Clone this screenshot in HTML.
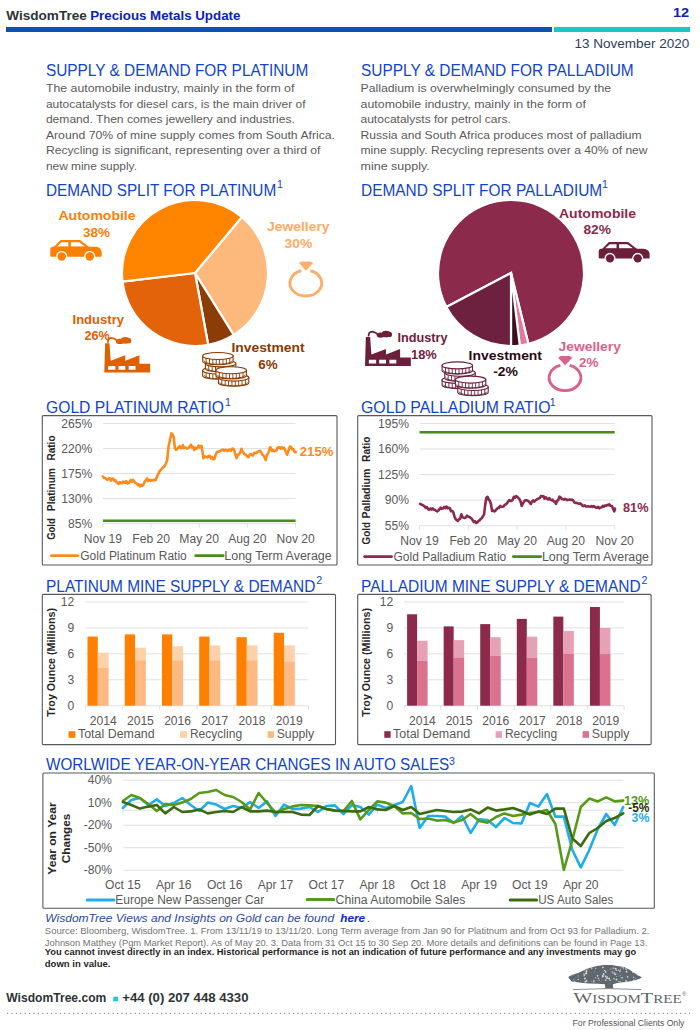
<!DOCTYPE html>
<html><head><meta charset="utf-8"><title>WisdomTree Precious Metals Update</title>
<style>
*{margin:0;padding:0}
html,body{width:700px;height:1030px;background:#fff;overflow:hidden}
svg{display:block}
</style></head><body>
<svg width="700" height="1030" viewBox="0 0 700 1030" font-family='"Liberation Sans", sans-serif'>
<rect width="700" height="1030" fill="#fff"/>
<text x="6.3" y="19.5" font-size="12.8" fill="#2c3437" font-weight="bold" textLength="80.5" lengthAdjust="spacingAndGlyphs">WisdomTree</text>
<text x="90.2" y="19.5" font-size="12.8" fill="#0b22b8" font-weight="bold" textLength="150.2" lengthAdjust="spacingAndGlyphs">Precious Metals Update</text>
<text x="673.0" y="17.2" font-size="11.9" fill="#0b22b8" font-weight="bold" textLength="16.2" lengthAdjust="spacingAndGlyphs">12</text>
<rect x="6" y="27" width="546" height="5" fill="#0b52b3"/>
<rect x="554" y="27" width="136" height="5" fill="#17c7c9"/>
<text x="574.4" y="47.7" font-size="13.2" fill="#2f3d5c" textLength="115.0" lengthAdjust="spacingAndGlyphs">13 November 2020</text>
<text x="46.0" y="76.4" font-size="16" fill="#1144cc" textLength="262.2" lengthAdjust="spacingAndGlyphs">SUPPLY &amp; DEMAND FOR PLATINUM</text>
<text x="361.0" y="76.0" font-size="16" fill="#1144cc" textLength="272.7" lengthAdjust="spacingAndGlyphs">SUPPLY &amp; DEMAND FOR PALLADIUM</text>
<text x="45.9" y="92.1" font-size="11.3" fill="#5b5b5b" textLength="248.5" lengthAdjust="spacingAndGlyphs">The automobile industry, mainly in the form of</text>
<text x="45.9" y="107.6" font-size="11.3" fill="#5b5b5b" textLength="259.6" lengthAdjust="spacingAndGlyphs">autocatalysts for diesel cars, is the main driver of</text>
<text x="45.9" y="123.1" font-size="11.3" fill="#5b5b5b" textLength="248.9" lengthAdjust="spacingAndGlyphs">demand. Then comes jewellery and industries.</text>
<text x="45.9" y="138.6" font-size="11.3" fill="#5b5b5b" textLength="289.1" lengthAdjust="spacingAndGlyphs">Around 70% of mine supply comes from South Africa.</text>
<text x="45.9" y="154.1" font-size="11.3" fill="#5b5b5b" textLength="274.6" lengthAdjust="spacingAndGlyphs">Recycling is significant, representing over a third of</text>
<text x="45.9" y="169.6" font-size="11.3" fill="#5b5b5b" textLength="91.1" lengthAdjust="spacingAndGlyphs">new mine supply.</text>
<text x="360.5" y="92.1" font-size="11.3" fill="#5b5b5b" textLength="250.6" lengthAdjust="spacingAndGlyphs">Palladium is overwhelmingly consumed by the</text>
<text x="360.5" y="107.6" font-size="11.3" fill="#5b5b5b" textLength="225.4" lengthAdjust="spacingAndGlyphs">automobile industry, mainly in the form of</text>
<text x="360.5" y="123.1" font-size="11.3" fill="#5b5b5b" textLength="150.3" lengthAdjust="spacingAndGlyphs">autocatalysts for petrol cars.</text>
<text x="360.5" y="138.6" font-size="11.3" fill="#5b5b5b" textLength="281.2" lengthAdjust="spacingAndGlyphs">Russia and South Africa produces most of palladium</text>
<text x="360.5" y="154.1" font-size="11.3" fill="#5b5b5b" textLength="287.1" lengthAdjust="spacingAndGlyphs">mine supply. Recycling represents over a 40% of new</text>
<text x="360.5" y="169.6" font-size="11.3" fill="#5b5b5b" textLength="69.3" lengthAdjust="spacingAndGlyphs">mine supply.</text>
<text x="46.0" y="196.2" font-size="16" fill="#1144cc" textLength="230.2" lengthAdjust="spacingAndGlyphs">DEMAND SPLIT FOR PLATINUM</text>
<text x="277.1" y="187.9" font-size="10.6" fill="#1144cc">1</text>
<text x="361.0" y="195.8" font-size="16" fill="#1144cc" textLength="241.2" lengthAdjust="spacingAndGlyphs">DEMAND SPLIT FOR PALLADIUM</text>
<text x="602.1" y="188.2" font-size="10.6" fill="#1144cc">1</text>
<path d="M195,273 L241.92,217.08 A73,73 0 0 1 233.68,334.91 Z" fill="#fdb87c" stroke="#fff" stroke-width="2.2" stroke-linejoin="miter"/>
<path d="M195,273 L233.68,334.91 A73,73 0 0 1 208.18,344.80 Z" fill="#8c3c06" stroke="#fff" stroke-width="2.2" stroke-linejoin="miter"/>
<path d="M195,273 L208.18,344.80 A73,73 0 0 1 122.51,281.64 Z" fill="#e3630a" stroke="#fff" stroke-width="2.2" stroke-linejoin="miter"/>
<path d="M195,273 L122.51,281.64 A73,73 0 0 1 241.92,217.08 Z" fill="#ff8400" stroke="#fff" stroke-width="2.2" stroke-linejoin="miter"/>
<text x="58.5" y="220.0" font-size="13.0" fill="#ff8000" font-weight="bold" textLength="77.0" lengthAdjust="spacingAndGlyphs">Automobile</text>
<text x="83.0" y="236.6" font-size="13.0" fill="#ff8000" font-weight="bold" textLength="27.0" lengthAdjust="spacingAndGlyphs">38%</text>
<text x="267.0" y="231.1" font-size="13.0" fill="#fdab66" font-weight="bold" textLength="62.5" lengthAdjust="spacingAndGlyphs">Jewellery</text>
<text x="284.5" y="247.7" font-size="13.0" fill="#fdab66" font-weight="bold" textLength="27.8" lengthAdjust="spacingAndGlyphs">30%</text>
<text x="72.5" y="323.6" font-size="13.0" fill="#e06000" font-weight="bold" textLength="51.5" lengthAdjust="spacingAndGlyphs">Industry</text>
<text x="84.6" y="340.3" font-size="13.0" fill="#e06000" font-weight="bold" textLength="25.2" lengthAdjust="spacingAndGlyphs">26%</text>
<text x="231.4" y="351.9" font-size="13.0" fill="#8b3a00" font-weight="bold" textLength="73.2" lengthAdjust="spacingAndGlyphs">Investment</text>
<text x="258.3" y="368.6" font-size="13.0" fill="#8b3a00" font-weight="bold" textLength="19.4" lengthAdjust="spacingAndGlyphs">6%</text>
<g transform="translate(50.3,239.4) scale(1.0)"><path d="M3.4,7.6 L10.3,0.6 L29.7,0.6 L38.8,7.6 Z" fill="#ff8000"/><path d="M6.6,7.0 L11.3,2.8 L18.0,2.8 L18.0,7.0 Z M20.6,2.8 L29.0,2.8 L34.6,7.0 L20.6,7.0 Z" fill="#fff"/><path d="M0,10 Q0,7.4 2.6,7.4 L45,7.4 Q51.4,8 51.4,13 L51.4,16.4 Q51.4,17.3 50.4,17.3 L1,17.3 Q0,17.3 0,16.3 Z" fill="#ff8000"/><circle cx="11.4" cy="17.1" r="5.6" fill="#fff"/><circle cx="39.4" cy="17.1" r="5.6" fill="#fff"/><circle cx="11.4" cy="17.1" r="4.2" fill="#ff8000"/><circle cx="39.4" cy="17.1" r="4.2" fill="#ff8000"/></g>
<path d="M301.20,270.75 A15.9,12.9 0 1 0 310.40,270.75" fill="none" stroke="#fdae6b" stroke-width="2.9"/>
<path d="M298.90,263.10 L301.70,261.40 L310.30,261.40 L313.10,263.10 L305.90,270.70 Z" fill="#fdae6b"/>
<g transform="translate(104.3,343.3)"><path d="M0,29.1 L0.84,0 L5.13,0 L6.41,17.55 L20.98,11.98 L20.98,17.55 L35.12,11.98 L35.12,20.55 L45.83,20.55 L45.83,29.1 Z" fill="#e06000"/><path d="M3.84,22.7 h7.28 v3.85 h-7.28 Z M14.12,22.7 h6.86 v3.85 h-6.86 Z M24.41,22.7 h6.85 v3.85 h-6.85 Z" fill="#fff"/><path d="M3.6,-0.6 Q3.4,-5.4 7.2,-5.4 Q10.2,-4.8 12.6,-3.0" fill="none" stroke="#e06000" stroke-width="1.8"/><ellipse cx="15.6" cy="-1.9" rx="4.0" ry="2.6" fill="#e06000"/><ellipse cx="21.0" cy="-2.9" rx="4.4" ry="3.3" fill="#e06000"/><ellipse cx="24.6" cy="-2.6" rx="2.4" ry="2.6" fill="#e06000"/></g>
<path d="M202.70,370.50 L202.70,375.70 A15.2,3.5 0 0 0 233.10,375.70 L233.10,370.50 Z" fill="#fff" stroke="#8b3a00" stroke-width="1.1"/>
<path d="M206.08,372.70 L206.08,377.90 M209.46,373.41 L209.46,378.61 M212.83,373.80 L212.83,379.00 M216.21,373.98 L216.21,379.18 M219.59,373.98 L219.59,379.18 M222.97,373.80 L222.97,379.00 M226.34,373.41 L226.34,378.61 M229.72,372.70 L229.72,377.90" stroke="#8b3a00" stroke-width="0.9"/>
<path d="M204.00,375.20 A13.899999999999999,3.5 0 0 0 231.80,375.20" fill="none" stroke="#8b3a00" stroke-width="0.8"/>
<ellipse cx="217.90" cy="370.50" rx="15.2" ry="3.5" fill="#fff" stroke="#8b3a00" stroke-width="1.1"/>
<path d="M205.40,363.40 L205.40,368.60 A15.2,3.5 0 0 0 235.80,368.60 L235.80,363.40 Z" fill="#fff" stroke="#8b3a00" stroke-width="1.1"/>
<path d="M208.78,365.60 L208.78,370.80 M212.16,366.31 L212.16,371.51 M215.53,366.70 L215.53,371.90 M218.91,366.88 L218.91,372.08 M222.29,366.88 L222.29,372.08 M225.67,366.70 L225.67,371.90 M229.04,366.31 L229.04,371.51 M232.42,365.60 L232.42,370.80" stroke="#8b3a00" stroke-width="0.9"/>
<path d="M206.70,368.10 A13.899999999999999,3.5 0 0 0 234.50,368.10" fill="none" stroke="#8b3a00" stroke-width="0.8"/>
<ellipse cx="220.60" cy="363.40" rx="15.2" ry="3.5" fill="#fff" stroke="#8b3a00" stroke-width="1.1"/>
<path d="M202.70,356.00 L202.70,361.20 A15.2,3.5 0 0 0 233.10,361.20 L233.10,356.00 Z" fill="#fff" stroke="#8b3a00" stroke-width="1.1"/>
<path d="M206.08,358.20 L206.08,363.40 M209.46,358.91 L209.46,364.11 M212.83,359.30 L212.83,364.50 M216.21,359.48 L216.21,364.68 M219.59,359.48 L219.59,364.68 M222.97,359.30 L222.97,364.50 M226.34,358.91 L226.34,364.11 M229.72,358.20 L229.72,363.40" stroke="#8b3a00" stroke-width="0.9"/>
<path d="M204.00,360.70 A13.899999999999999,3.5 0 0 0 231.80,360.70" fill="none" stroke="#8b3a00" stroke-width="0.8"/>
<ellipse cx="217.90" cy="356.00" rx="15.2" ry="3.5" fill="#fff" stroke="#8b3a00" stroke-width="1.1"/>
<path d="M218.40,377.60 L218.40,382.80 A15.2,3.5 0 0 0 248.80,382.80 L248.80,377.60 Z" fill="#fff" stroke="#8b3a00" stroke-width="1.1"/>
<path d="M221.78,379.80 L221.78,385.00 M225.16,380.51 L225.16,385.71 M228.53,380.90 L228.53,386.10 M231.91,381.08 L231.91,386.28 M235.29,381.08 L235.29,386.28 M238.67,380.90 L238.67,386.10 M242.04,380.51 L242.04,385.71 M245.42,379.80 L245.42,385.00" stroke="#8b3a00" stroke-width="0.9"/>
<path d="M219.70,382.30 A13.899999999999999,3.5 0 0 0 247.50,382.30" fill="none" stroke="#8b3a00" stroke-width="0.8"/>
<ellipse cx="233.60" cy="377.60" rx="15.2" ry="3.5" fill="#fff" stroke="#8b3a00" stroke-width="1.1"/>
<path d="M216.00,370.20 L216.00,375.40 A15.2,3.5 0 0 0 246.40,375.40 L246.40,370.20 Z" fill="#fff" stroke="#8b3a00" stroke-width="1.1"/>
<path d="M219.38,372.40 L219.38,377.60 M222.76,373.11 L222.76,378.31 M226.13,373.50 L226.13,378.70 M229.51,373.68 L229.51,378.88 M232.89,373.68 L232.89,378.88 M236.27,373.50 L236.27,378.70 M239.64,373.11 L239.64,378.31 M243.02,372.40 L243.02,377.60" stroke="#8b3a00" stroke-width="0.9"/>
<path d="M217.30,374.90 A13.899999999999999,3.5 0 0 0 245.10,374.90" fill="none" stroke="#8b3a00" stroke-width="0.8"/>
<ellipse cx="231.20" cy="370.20" rx="15.2" ry="3.5" fill="#fff" stroke="#8b3a00" stroke-width="1.1"/>
<path d="M511,273 L446.37,306.93 A73,73 0 1 1 528.41,343.89 Z" fill="#8c2a4c" stroke="#fff" stroke-width="2.2" stroke-linejoin="miter"/>
<path d="M511,273 L528.41,343.89 A73,73 0 0 1 519.77,345.47 Z" fill="#e0799a" stroke="#fff" stroke-width="2.2" stroke-linejoin="miter"/>
<path d="M511,273 L519.77,345.47 A73,73 0 0 1 511.00,346.00 Z" fill="#3c0e20" stroke="#fff" stroke-width="2.2" stroke-linejoin="miter"/>
<path d="M511,273 L511.00,346.00 A73,73 0 0 1 446.37,306.93 Z" fill="#6e213e" stroke="#fff" stroke-width="2.2" stroke-linejoin="miter"/>
<text x="559.0" y="218.3" font-size="13.0" fill="#8b2a4b" font-weight="bold" textLength="77.0" lengthAdjust="spacingAndGlyphs">Automobile</text>
<text x="583.4" y="234.3" font-size="13.0" fill="#8b2a4b" font-weight="bold" textLength="27.5" lengthAdjust="spacingAndGlyphs">82%</text>
<text x="397.5" y="342.1" font-size="13.0" fill="#6e213e" font-weight="bold" textLength="50.0" lengthAdjust="spacingAndGlyphs">Industry</text>
<text x="411.0" y="358.9" font-size="13.0" fill="#6e213e" font-weight="bold" textLength="25.8" lengthAdjust="spacingAndGlyphs">18%</text>
<text x="468.6" y="359.6" font-size="13.0" fill="#2a0a16" font-weight="bold" textLength="73.4" lengthAdjust="spacingAndGlyphs">Investment</text>
<text x="493.2" y="376.4" font-size="13.0" fill="#2a0a16" font-weight="bold" textLength="24.8" lengthAdjust="spacingAndGlyphs">-2%</text>
<text x="558.6" y="350.6" font-size="13.0" fill="#d9628a" font-weight="bold" textLength="62.3" lengthAdjust="spacingAndGlyphs">Jewellery</text>
<text x="579.0" y="366.5" font-size="13.0" fill="#d9628a" font-weight="bold" textLength="19.4" lengthAdjust="spacingAndGlyphs">2%</text>
<g transform="translate(598.7,241.4) scale(0.99)"><path d="M3.4,7.6 L10.3,0.6 L29.7,0.6 L38.8,7.6 Z" fill="#6b1f3a"/><path d="M6.6,7.0 L11.3,2.8 L18.0,2.8 L18.0,7.0 Z M20.6,2.8 L29.0,2.8 L34.6,7.0 L20.6,7.0 Z" fill="#fff"/><path d="M0,10 Q0,7.4 2.6,7.4 L45,7.4 Q51.4,8 51.4,13 L51.4,16.4 Q51.4,17.3 50.4,17.3 L1,17.3 Q0,17.3 0,16.3 Z" fill="#6b1f3a"/><circle cx="11.4" cy="17.1" r="5.6" fill="#fff"/><circle cx="39.4" cy="17.1" r="5.6" fill="#fff"/><circle cx="11.4" cy="17.1" r="4.2" fill="#6b1f3a"/><circle cx="39.4" cy="17.1" r="4.2" fill="#6b1f3a"/></g>
<path d="M560.40,365.35 A15.9,12.9 0 1 0 569.60,365.35" fill="none" stroke="#d9628a" stroke-width="2.9"/>
<path d="M558.10,357.70 L560.90,356.00 L569.50,356.00 L572.30,357.70 L565.10,365.30 Z" fill="#d9628a"/>
<g transform="translate(365.0,337.0)"><path d="M0,29.1 L0.84,0 L5.13,0 L6.41,17.55 L20.98,11.98 L20.98,17.55 L35.12,11.98 L35.12,20.55 L45.83,20.55 L45.83,29.1 Z" fill="#6b1f3a"/><path d="M3.84,22.7 h7.28 v3.85 h-7.28 Z M14.12,22.7 h6.86 v3.85 h-6.86 Z M24.41,22.7 h6.85 v3.85 h-6.85 Z" fill="#fff"/><path d="M3.6,-0.6 Q3.4,-5.4 7.2,-5.4 Q10.2,-4.8 12.6,-3.0" fill="none" stroke="#6b1f3a" stroke-width="1.8"/><ellipse cx="15.6" cy="-1.9" rx="4.0" ry="2.6" fill="#6b1f3a"/><ellipse cx="21.0" cy="-2.9" rx="4.4" ry="3.3" fill="#6b1f3a"/><ellipse cx="24.6" cy="-2.6" rx="2.4" ry="2.6" fill="#6b1f3a"/></g>
<path d="M442.10,379.90 L442.10,385.10 A15.2,3.5 0 0 0 472.50,385.10 L472.50,379.90 Z" fill="#fff" stroke="#6b1f3a" stroke-width="1.1"/>
<path d="M445.48,382.10 L445.48,387.30 M448.86,382.81 L448.86,388.01 M452.23,383.20 L452.23,388.40 M455.61,383.38 L455.61,388.58 M458.99,383.38 L458.99,388.58 M462.37,383.20 L462.37,388.40 M465.74,382.81 L465.74,388.01 M469.12,382.10 L469.12,387.30" stroke="#6b1f3a" stroke-width="0.9"/>
<path d="M443.40,384.60 A13.899999999999999,3.5 0 0 0 471.20,384.60" fill="none" stroke="#6b1f3a" stroke-width="0.8"/>
<ellipse cx="457.30" cy="379.90" rx="15.2" ry="3.5" fill="#fff" stroke="#6b1f3a" stroke-width="1.1"/>
<path d="M444.80,372.80 L444.80,378.00 A15.2,3.5 0 0 0 475.20,378.00 L475.20,372.80 Z" fill="#fff" stroke="#6b1f3a" stroke-width="1.1"/>
<path d="M448.18,375.00 L448.18,380.20 M451.56,375.71 L451.56,380.91 M454.93,376.10 L454.93,381.30 M458.31,376.28 L458.31,381.48 M461.69,376.28 L461.69,381.48 M465.07,376.10 L465.07,381.30 M468.44,375.71 L468.44,380.91 M471.82,375.00 L471.82,380.20" stroke="#6b1f3a" stroke-width="0.9"/>
<path d="M446.10,377.50 A13.899999999999999,3.5 0 0 0 473.90,377.50" fill="none" stroke="#6b1f3a" stroke-width="0.8"/>
<ellipse cx="460.00" cy="372.80" rx="15.2" ry="3.5" fill="#fff" stroke="#6b1f3a" stroke-width="1.1"/>
<path d="M442.10,365.40 L442.10,370.60 A15.2,3.5 0 0 0 472.50,370.60 L472.50,365.40 Z" fill="#fff" stroke="#6b1f3a" stroke-width="1.1"/>
<path d="M445.48,367.60 L445.48,372.80 M448.86,368.31 L448.86,373.51 M452.23,368.70 L452.23,373.90 M455.61,368.88 L455.61,374.08 M458.99,368.88 L458.99,374.08 M462.37,368.70 L462.37,373.90 M465.74,368.31 L465.74,373.51 M469.12,367.60 L469.12,372.80" stroke="#6b1f3a" stroke-width="0.9"/>
<path d="M443.40,370.10 A13.899999999999999,3.5 0 0 0 471.20,370.10" fill="none" stroke="#6b1f3a" stroke-width="0.8"/>
<ellipse cx="457.30" cy="365.40" rx="15.2" ry="3.5" fill="#fff" stroke="#6b1f3a" stroke-width="1.1"/>
<path d="M457.80,387.00 L457.80,392.20 A15.2,3.5 0 0 0 488.20,392.20 L488.20,387.00 Z" fill="#fff" stroke="#6b1f3a" stroke-width="1.1"/>
<path d="M461.18,389.20 L461.18,394.40 M464.56,389.91 L464.56,395.11 M467.93,390.30 L467.93,395.50 M471.31,390.48 L471.31,395.68 M474.69,390.48 L474.69,395.68 M478.07,390.30 L478.07,395.50 M481.44,389.91 L481.44,395.11 M484.82,389.20 L484.82,394.40" stroke="#6b1f3a" stroke-width="0.9"/>
<path d="M459.10,391.70 A13.899999999999999,3.5 0 0 0 486.90,391.70" fill="none" stroke="#6b1f3a" stroke-width="0.8"/>
<ellipse cx="473.00" cy="387.00" rx="15.2" ry="3.5" fill="#fff" stroke="#6b1f3a" stroke-width="1.1"/>
<path d="M455.40,379.60 L455.40,384.80 A15.2,3.5 0 0 0 485.80,384.80 L485.80,379.60 Z" fill="#fff" stroke="#6b1f3a" stroke-width="1.1"/>
<path d="M458.78,381.80 L458.78,387.00 M462.16,382.51 L462.16,387.71 M465.53,382.90 L465.53,388.10 M468.91,383.08 L468.91,388.28 M472.29,383.08 L472.29,388.28 M475.67,382.90 L475.67,388.10 M479.04,382.51 L479.04,387.71 M482.42,381.80 L482.42,387.00" stroke="#6b1f3a" stroke-width="0.9"/>
<path d="M456.70,384.30 A13.899999999999999,3.5 0 0 0 484.50,384.30" fill="none" stroke="#6b1f3a" stroke-width="0.8"/>
<ellipse cx="470.60" cy="379.60" rx="15.2" ry="3.5" fill="#fff" stroke="#6b1f3a" stroke-width="1.1"/>
<text x="46.0" y="412.8" font-size="16" fill="#1144cc" textLength="178.0" lengthAdjust="spacingAndGlyphs">GOLD PLATINUM RATIO</text>
<text x="224.9" y="406.0" font-size="10.6" fill="#1144cc">1</text>
<rect x="42.3" y="415.6" width="294.7" height="149.39999999999998" fill="none" stroke="#555a5d" stroke-width="1.1" rx="1"/>
<line x1="103.0" y1="423.40" x2="295.6" y2="423.40" stroke="#e0e0e0" stroke-width="1"/>
<line x1="103.0" y1="448.45" x2="295.6" y2="448.45" stroke="#e0e0e0" stroke-width="1"/>
<line x1="103.0" y1="473.50" x2="295.6" y2="473.50" stroke="#e0e0e0" stroke-width="1"/>
<line x1="103.0" y1="498.55" x2="295.6" y2="498.55" stroke="#e0e0e0" stroke-width="1"/>
<line x1="103.0" y1="523.60" x2="295.6" y2="523.60" stroke="#e0e0e0" stroke-width="1"/>
<path d="M102.90,523.60 v4 M151.07,523.60 v4 M199.24,523.60 v4 M247.41,523.60 v4 M295.58,523.60 v4" stroke="#e0e0e0" stroke-width="1"/>
<text x="92.3" y="427.6" font-size="12.1" fill="#595959" text-anchor="end">265%</text>
<text x="92.3" y="452.6" font-size="12.1" fill="#595959" text-anchor="end">220%</text>
<text x="92.3" y="477.7" font-size="12.1" fill="#595959" text-anchor="end">175%</text>
<text x="92.3" y="502.7" font-size="12.1" fill="#595959" text-anchor="end">130%</text>
<text x="92.3" y="527.8" font-size="12.1" fill="#595959" text-anchor="end">85%</text>
<text x="102.9" y="542.7" font-size="12.1" fill="#595959" text-anchor="middle">Nov 19</text>
<text x="151.1" y="542.7" font-size="12.1" fill="#595959" text-anchor="middle">Feb 20</text>
<text x="199.2" y="542.7" font-size="12.1" fill="#595959" text-anchor="middle">May 20</text>
<text x="247.4" y="542.7" font-size="12.1" fill="#595959" text-anchor="middle">Aug 20</text>
<text x="295.6" y="542.7" font-size="12.1" fill="#595959" text-anchor="middle">Nov 20</text>
<text transform="translate(55.0,529.0) rotate(-90)" x="0" y="0" font-size="10.3" font-weight="bold" fill="#262626" text-anchor="middle" textLength="21.6" lengthAdjust="spacingAndGlyphs">Gold</text>
<text transform="translate(55.0,489.6) rotate(-90)" x="0" y="0" font-size="10.3" font-weight="bold" fill="#262626" text-anchor="middle" textLength="43.1" lengthAdjust="spacingAndGlyphs">Platinum</text>
<text transform="translate(55.0,448.0) rotate(-90)" x="0" y="0" font-size="10.3" font-weight="bold" fill="#262626" text-anchor="middle" textLength="25.0" lengthAdjust="spacingAndGlyphs">Ratio</text>
<line x1="102.9" y1="520.70" x2="295.6" y2="520.70" stroke="#4b8a1c" stroke-width="2.6"/>
<path d="M102.90,476.51 L104.04,477.95 L105.18,477.95 L106.32,479.17 L107.46,479.76 L108.60,478.60 L109.74,478.32 L110.88,480.67 L112.02,478.82 L113.16,478.62 L114.30,480.79 L115.38,480.29 L116.45,482.46 L117.52,482.45 L118.60,484.02 L119.67,482.05 L120.75,483.00 L121.83,483.20 L122.90,481.67 L124.04,482.60 L125.18,482.67 L126.32,481.13 L127.46,483.49 L128.60,483.27 L129.68,481.63 L130.75,480.04 L131.82,481.77 L132.90,479.82 L134.30,481.66 L135.70,483.24 L136.77,483.62 L137.85,485.11 L138.93,484.41 L140.00,486.50 L141.07,484.93 L142.15,485.91 L143.23,485.24 L144.30,482.39 L145.70,480.36 L147.10,478.45 L148.18,481.05 L149.25,479.81 L150.32,480.73 L151.40,480.10 L152.47,480.52 L153.55,479.96 L154.62,479.65 L155.70,480.16 L157.15,476.25 L158.60,473.31 L160.00,470.60 L161.40,469.29 L162.85,467.57 L164.30,466.47 L165.70,463.81 L167.10,460.59 L168.60,446.08 L170.00,439.94 L171.40,433.31 L172.55,434.46 L173.70,437.04 L174.90,448.43 L176.13,449.83 L177.37,448.59 L178.60,447.25 L179.68,446.22 L180.75,448.21 L181.82,448.24 L182.90,445.17 L183.95,448.03 L185.00,447.58 L186.05,447.53 L187.10,448.68 L188.55,447.96 L190.00,446.12 L191.07,444.71 L192.15,447.49 L193.23,446.86 L194.30,449.96 L195.38,447.87 L196.45,448.59 L197.53,447.97 L198.60,445.62 L200.00,447.50 L201.40,445.83 L202.40,450.88 L203.40,458.20 L204.44,456.31 L205.48,456.63 L206.52,457.08 L207.56,457.51 L208.60,455.97 L209.74,455.81 L210.88,458.46 L212.02,456.98 L213.16,459.10 L214.30,459.09 L215.70,454.63 L217.10,451.98 L218.26,451.60 L219.42,451.41 L220.58,450.71 L221.74,450.04 L222.90,449.66 L224.04,450.90 L225.18,449.88 L226.32,449.93 L227.46,451.08 L228.60,449.91 L229.68,449.53 L230.75,450.98 L231.82,449.04 L232.90,448.55 L234.13,450.10 L235.37,454.48 L236.60,458.14 L237.80,454.51 L239.00,454.35 L240.20,452.45 L241.40,448.78 L242.47,451.71 L243.55,452.45 L244.62,454.31 L245.70,454.56 L247.15,456.32 L248.60,457.11 L249.74,454.41 L250.88,453.96 L252.02,455.25 L253.16,455.55 L254.30,452.85 L255.44,453.01 L256.58,452.96 L257.72,451.68 L258.86,451.35 L260.00,450.74 L261.14,452.51 L262.28,454.79 L263.42,455.50 L264.56,457.33 L265.70,460.12 L266.77,455.03 L267.85,453.81 L268.93,451.46 L270.00,447.33 L271.07,448.12 L272.15,450.91 L273.23,450.27 L274.30,451.16 L275.38,450.86 L276.45,450.59 L277.53,447.76 L278.60,447.37 L279.68,447.25 L280.75,448.60 L281.82,447.27 L282.90,448.37 L283.95,447.88 L285.00,449.96 L286.05,452.48 L287.10,454.75 L288.55,450.30 L290.00,446.48 L291.14,447.12 L292.28,449.31 L293.42,449.25 L294.56,452.06 L295.70,452.10" fill="none" stroke="#ff8a1c" stroke-width="2.6" stroke-linejoin="round" stroke-linecap="round"/>
<text x="299.8" y="456.0" font-size="12.6" fill="#ff8a1c" font-weight="bold" textLength="33.6" lengthAdjust="spacingAndGlyphs">215%</text>
<path d="M51.40,555.70 L77.70,555.70" fill="none" stroke="#ff8a1c" stroke-width="2.8" stroke-linejoin="round" stroke-linecap="round"/>
<text x="80.3" y="559.6" font-size="12.0" fill="#595959" textLength="106.4" lengthAdjust="spacingAndGlyphs">Gold Platinum Ratio</text>
<path d="M195.70,555.70 L223.10,555.70" fill="none" stroke="#4b8a1c" stroke-width="2.8" stroke-linejoin="round" stroke-linecap="round"/>
<text x="224.3" y="559.6" font-size="12.0" fill="#595959" textLength="107.4" lengthAdjust="spacingAndGlyphs">Long Term Average</text>
<text x="361.0" y="413.0" font-size="16" fill="#1144cc" textLength="189.5" lengthAdjust="spacingAndGlyphs">GOLD PALLADIUM RATIO</text>
<text x="549.8" y="406.2" font-size="10.6" fill="#1144cc">1</text>
<rect x="357.7" y="415.6" width="294.3" height="149.39999999999998" fill="none" stroke="#555a5d" stroke-width="1.1" rx="1"/>
<line x1="419.5" y1="423.40" x2="614.7" y2="423.40" stroke="#e0e0e0" stroke-width="1"/>
<line x1="419.5" y1="448.98" x2="614.7" y2="448.98" stroke="#e0e0e0" stroke-width="1"/>
<line x1="419.5" y1="474.56" x2="614.7" y2="474.56" stroke="#e0e0e0" stroke-width="1"/>
<line x1="419.5" y1="500.14" x2="614.7" y2="500.14" stroke="#e0e0e0" stroke-width="1"/>
<line x1="419.5" y1="525.72" x2="614.7" y2="525.72" stroke="#e0e0e0" stroke-width="1"/>
<path d="M419.50,525.72 v4 M468.30,525.72 v4 M517.10,525.72 v4 M565.90,525.72 v4 M614.70,525.72 v4" stroke="#e0e0e0" stroke-width="1"/>
<text x="409.0" y="427.6" font-size="12.1" fill="#595959" text-anchor="end">195%</text>
<text x="409.0" y="453.2" font-size="12.1" fill="#595959" text-anchor="end">160%</text>
<text x="409.0" y="478.8" font-size="12.1" fill="#595959" text-anchor="end">125%</text>
<text x="409.0" y="504.3" font-size="12.1" fill="#595959" text-anchor="end">90%</text>
<text x="409.0" y="529.9" font-size="12.1" fill="#595959" text-anchor="end">55%</text>
<text x="419.5" y="544.7" font-size="12.1" fill="#595959" text-anchor="middle">Nov 19</text>
<text x="468.3" y="544.7" font-size="12.1" fill="#595959" text-anchor="middle">Feb 20</text>
<text x="517.1" y="544.7" font-size="12.1" fill="#595959" text-anchor="middle">May 20</text>
<text x="565.9" y="544.7" font-size="12.1" fill="#595959" text-anchor="middle">Aug 20</text>
<text x="614.7" y="544.7" font-size="12.1" fill="#595959" text-anchor="middle">Nov 20</text>
<text transform="translate(370.0,533.3) rotate(-90)" x="0" y="0" font-size="10.3" font-weight="bold" fill="#262626" text-anchor="middle" textLength="22.4" lengthAdjust="spacingAndGlyphs">Gold</text>
<text transform="translate(370.0,493.6) rotate(-90)" x="0" y="0" font-size="10.3" font-weight="bold" fill="#262626" text-anchor="middle" textLength="49.7" lengthAdjust="spacingAndGlyphs">Palladium</text>
<text transform="translate(370.0,449.2) rotate(-90)" x="0" y="0" font-size="10.3" font-weight="bold" fill="#262626" text-anchor="middle" textLength="25.5" lengthAdjust="spacingAndGlyphs">Ratio</text>
<line x1="419.5" y1="432.20" x2="614.7" y2="432.20" stroke="#4b8a1c" stroke-width="2.6"/>
<path d="M420.10,503.87 L421.23,504.50 L422.37,504.98 L423.50,505.67 L424.65,506.38 L425.80,507.93 L426.95,507.11 L428.10,509.22 L429.30,509.68 L430.50,508.43 L431.62,509.56 L432.75,508.40 L433.88,509.76 L435.00,509.84 L436.13,510.90 L437.27,511.36 L438.40,510.53 L439.55,509.23 L440.70,507.61 L441.84,508.88 L442.98,508.40 L444.12,506.93 L445.26,508.19 L446.40,506.61 L447.57,508.29 L448.73,507.85 L449.90,508.20 L451.03,511.25 L452.17,510.93 L453.30,512.07 L454.43,516.43 L455.57,518.85 L456.70,520.24 L457.83,520.95 L458.97,519.25 L460.10,518.79 L461.30,514.35 L462.45,517.12 L463.60,517.72 L464.73,517.93 L465.87,517.37 L467.00,515.66 L468.13,516.56 L469.27,516.90 L470.40,517.62 L471.57,518.61 L472.73,520.30 L473.90,522.13 L475.03,521.17 L476.17,523.02 L477.30,522.64 L478.45,520.88 L479.60,520.30 L480.75,518.96 L481.90,517.99 L483.00,516.11 L484.10,514.35 L485.25,504.33 L486.40,497.75 L487.57,496.78 L488.73,499.52 L489.90,500.86 L491.00,504.19 L492.10,511.03 L493.27,510.51 L494.43,511.37 L495.60,510.52 L496.73,509.07 L497.87,507.83 L499.00,508.00 L500.15,505.95 L501.30,506.80 L502.45,506.80 L503.60,506.44 L504.75,504.74 L505.90,504.38 L507.00,503.05 L508.10,501.91 L509.27,500.04 L510.43,501.05 L511.60,500.75 L512.73,499.76 L513.87,496.81 L515.00,497.68 L516.05,496.00 L517.10,496.75 L518.25,497.94 L519.40,499.22 L520.55,501.35 L521.70,506.03 L522.83,503.70 L523.97,501.69 L525.10,500.20 L526.26,500.35 L527.42,500.59 L528.58,501.21 L529.74,502.86 L530.90,503.99 L532.03,501.39 L533.17,500.37 L534.30,501.67 L535.43,500.27 L536.57,499.59 L537.70,498.82 L538.83,498.47 L539.97,497.85 L541.10,495.90 L542.25,496.40 L543.40,496.17 L544.55,498.64 L545.70,497.27 L546.85,498.47 L548.00,499.41 L549.15,498.04 L550.30,499.54 L551.45,500.21 L552.60,499.69 L553.73,501.57 L554.87,501.60 L556.00,503.86 L557.13,500.93 L558.27,500.16 L559.40,496.65 L560.55,497.38 L561.70,498.97 L562.85,499.02 L564.00,499.68 L565.15,498.91 L566.30,499.37 L567.43,500.10 L568.57,499.75 L569.70,499.54 L570.83,499.99 L571.97,499.62 L573.10,500.33 L574.26,502.35 L575.42,502.97 L576.58,502.92 L577.74,503.32 L578.90,503.64 L580.04,503.42 L581.18,504.14 L582.32,505.58 L583.46,506.09 L584.60,505.29 L585.73,506.35 L586.87,506.44 L588.00,506.38 L589.13,506.43 L590.27,506.75 L591.40,506.00 L592.55,506.93 L593.70,506.18 L594.85,506.82 L596.00,507.63 L597.15,507.64 L598.30,506.95 L599.45,508.28 L600.60,507.53 L601.75,507.28 L602.90,505.93 L603.97,506.60 L605.03,505.45 L606.10,505.88 L607.17,504.92 L608.23,505.20 L609.30,504.32 L610.65,505.80 L612.00,505.97 L613.15,508.92 L614.30,511.42 L615.00,508.60" fill="none" stroke="#8b2a4b" stroke-width="2.6" stroke-linejoin="round" stroke-linecap="round"/>
<text x="623.0" y="512.0" font-size="12.6" fill="#8b2a4b" font-weight="bold" textLength="25.5" lengthAdjust="spacingAndGlyphs">81%</text>
<path d="M364.60,556.60 L391.60,556.60" fill="none" stroke="#8b2a4b" stroke-width="2.8" stroke-linejoin="round" stroke-linecap="round"/>
<text x="393.5" y="560.5" font-size="12.0" fill="#595959" textLength="112.8" lengthAdjust="spacingAndGlyphs">Gold Palladium Ratio</text>
<path d="M513.30,556.60 L540.70,556.60" fill="none" stroke="#4b8a1c" stroke-width="2.8" stroke-linejoin="round" stroke-linecap="round"/>
<text x="541.9" y="560.5" font-size="12.0" fill="#595959" textLength="107.1" lengthAdjust="spacingAndGlyphs">Long Term Average</text>
<text x="46.0" y="591.5" font-size="16" fill="#1144cc" textLength="269.3" lengthAdjust="spacingAndGlyphs">PLATINUM MINE SUPPLY &amp; DEMAND</text>
<text x="316.3" y="583.6" font-size="10.6" fill="#1144cc">2</text>
<rect x="42.3" y="594.4" width="293.2" height="150.20000000000005" fill="none" stroke="#555a5d" stroke-width="1.1" rx="1"/>
<line x1="85.3" y1="602.00" x2="308.5" y2="602.00" stroke="#e0e0e0" stroke-width="1"/>
<line x1="85.3" y1="627.93" x2="308.5" y2="627.93" stroke="#e0e0e0" stroke-width="1"/>
<line x1="85.3" y1="653.86" x2="308.5" y2="653.86" stroke="#e0e0e0" stroke-width="1"/>
<line x1="85.3" y1="679.79" x2="308.5" y2="679.79" stroke="#e0e0e0" stroke-width="1"/>
<line x1="85.3" y1="705.72" x2="308.5" y2="705.72" stroke="#e0e0e0" stroke-width="1"/>
<path d="M85.30,705.72 v4 M122.50,705.72 v4 M159.70,705.72 v4 M196.90,705.72 v4 M234.10,705.72 v4 M271.30,705.72 v4 M308.50,705.72 v4" stroke="#e0e0e0" stroke-width="1"/>
<text x="74.3" y="606.2" font-size="12.1" fill="#595959" text-anchor="end">12</text>
<text x="74.3" y="632.1" font-size="12.1" fill="#595959" text-anchor="end">9</text>
<text x="74.3" y="658.1" font-size="12.1" fill="#595959" text-anchor="end">6</text>
<text x="74.3" y="684.0" font-size="12.1" fill="#595959" text-anchor="end">3</text>
<text x="74.3" y="709.9" font-size="12.1" fill="#595959" text-anchor="end">0</text>
<rect x="87.50" y="636.56" width="10.3" height="69.14" fill="#ff8000"/>
<rect x="97.80" y="652.72" width="10.8" height="14.86" fill="#fdd1a9"/>
<rect x="97.80" y="667.59" width="10.8" height="38.11" fill="#fdb982"/>
<rect x="124.74" y="634.40" width="10.3" height="71.30" fill="#ff8000"/>
<rect x="135.04" y="647.71" width="10.8" height="12.53" fill="#fdd1a9"/>
<rect x="135.04" y="660.24" width="10.8" height="45.46" fill="#fdb982"/>
<rect x="161.98" y="634.40" width="10.3" height="71.30" fill="#ff8000"/>
<rect x="172.28" y="646.33" width="10.8" height="13.91" fill="#fdd1a9"/>
<rect x="172.28" y="660.24" width="10.8" height="45.46" fill="#fdb982"/>
<rect x="199.22" y="636.56" width="10.3" height="69.14" fill="#ff8000"/>
<rect x="209.52" y="645.38" width="10.8" height="14.86" fill="#fdd1a9"/>
<rect x="209.52" y="660.24" width="10.8" height="45.46" fill="#fdb982"/>
<rect x="236.46" y="637.17" width="10.3" height="68.53" fill="#ff8000"/>
<rect x="246.76" y="645.38" width="10.8" height="14.86" fill="#fdd1a9"/>
<rect x="246.76" y="660.24" width="10.8" height="45.46" fill="#fdb982"/>
<rect x="273.70" y="632.76" width="10.3" height="72.94" fill="#ff8000"/>
<rect x="284.00" y="645.38" width="10.8" height="15.99" fill="#fdd1a9"/>
<rect x="284.00" y="661.37" width="10.8" height="44.33" fill="#fdb982"/>
<text x="103.2" y="724.7" font-size="12.1" fill="#595959" text-anchor="middle">2014</text>
<text x="140.4" y="724.7" font-size="12.1" fill="#595959" text-anchor="middle">2015</text>
<text x="177.6" y="724.7" font-size="12.1" fill="#595959" text-anchor="middle">2016</text>
<text x="214.8" y="724.7" font-size="12.1" fill="#595959" text-anchor="middle">2017</text>
<text x="252.0" y="724.7" font-size="12.1" fill="#595959" text-anchor="middle">2018</text>
<text x="289.2" y="724.7" font-size="12.1" fill="#595959" text-anchor="middle">2019</text>
<rect x="68.6" y="731.2" width="6.800000000000011" height="6.6" fill="#ff8000"/>
<text x="78.0" y="738.0" font-size="12.0" fill="#595959" textLength="76.6" lengthAdjust="spacingAndGlyphs">Total Demand</text>
<rect x="180.0" y="731.2" width="6.900000000000006" height="6.6" fill="#fdd1a9"/>
<text x="189.9" y="738.0" font-size="12.0" fill="#595959" textLength="52.2" lengthAdjust="spacingAndGlyphs">Recycling</text>
<rect x="267.6" y="731.2" width="6.399999999999977" height="6.6" fill="#fdb982"/>
<text x="276.7" y="738.0" font-size="12.0" fill="#595959" textLength="37.4" lengthAdjust="spacingAndGlyphs">Supply</text>
<text transform="translate(54.8,662.4) rotate(-90)" x="0" y="0" font-size="10.3" font-weight="bold" fill="#262626" text-anchor="middle" textLength="108.7" lengthAdjust="spacingAndGlyphs">Troy Ounce (Millions)</text>
<text x="361.0" y="591.5" font-size="16" fill="#1144cc" textLength="279.6" lengthAdjust="spacingAndGlyphs">PALLADIUM MINE SUPPLY &amp; DEMAND</text>
<text x="641.6" y="583.6" font-size="10.6" fill="#1144cc">2</text>
<rect x="357.7" y="594.4" width="293.40000000000003" height="150.20000000000005" fill="none" stroke="#555a5d" stroke-width="1.1" rx="1"/>
<line x1="404.1" y1="602.00" x2="624.1" y2="602.00" stroke="#e0e0e0" stroke-width="1"/>
<line x1="404.1" y1="627.93" x2="624.1" y2="627.93" stroke="#e0e0e0" stroke-width="1"/>
<line x1="404.1" y1="653.86" x2="624.1" y2="653.86" stroke="#e0e0e0" stroke-width="1"/>
<line x1="404.1" y1="679.79" x2="624.1" y2="679.79" stroke="#e0e0e0" stroke-width="1"/>
<line x1="404.1" y1="705.72" x2="624.1" y2="705.72" stroke="#e0e0e0" stroke-width="1"/>
<path d="M404.10,705.72 v4 M440.77,705.72 v4 M477.43,705.72 v4 M514.10,705.72 v4 M550.77,705.72 v4 M587.43,705.72 v4 M624.10,705.72 v4" stroke="#e0e0e0" stroke-width="1"/>
<text x="393.2" y="606.2" font-size="12.1" fill="#595959" text-anchor="end">12</text>
<text x="393.2" y="632.1" font-size="12.1" fill="#595959" text-anchor="end">9</text>
<text x="393.2" y="658.1" font-size="12.1" fill="#595959" text-anchor="end">6</text>
<text x="393.2" y="684.0" font-size="12.1" fill="#595959" text-anchor="end">3</text>
<text x="393.2" y="709.9" font-size="12.1" fill="#595959" text-anchor="end">0</text>
<rect x="407.10" y="614.27" width="10.0" height="91.43" fill="#8c2a4c"/>
<rect x="417.10" y="640.80" width="10.5" height="19.88" fill="#e7a1b6"/>
<rect x="417.10" y="660.68" width="10.5" height="45.02" fill="#d9718f"/>
<rect x="443.66" y="626.37" width="10.0" height="79.33" fill="#8c2a4c"/>
<rect x="453.66" y="640.11" width="10.5" height="17.89" fill="#e7a1b6"/>
<rect x="453.66" y="658.00" width="10.5" height="47.70" fill="#d9718f"/>
<rect x="480.22" y="624.12" width="10.0" height="81.58" fill="#8c2a4c"/>
<rect x="490.22" y="637.17" width="10.5" height="18.49" fill="#e7a1b6"/>
<rect x="490.22" y="655.66" width="10.5" height="50.04" fill="#d9718f"/>
<rect x="516.78" y="618.85" width="10.0" height="86.85" fill="#8c2a4c"/>
<rect x="526.78" y="636.65" width="10.5" height="21.09" fill="#e7a1b6"/>
<rect x="526.78" y="657.74" width="10.5" height="47.96" fill="#d9718f"/>
<rect x="553.34" y="616.60" width="10.0" height="89.10" fill="#8c2a4c"/>
<rect x="563.34" y="630.95" width="10.5" height="22.90" fill="#e7a1b6"/>
<rect x="563.34" y="653.85" width="10.5" height="51.85" fill="#d9718f"/>
<rect x="589.90" y="607.01" width="10.0" height="98.69" fill="#8c2a4c"/>
<rect x="599.90" y="627.92" width="10.5" height="25.93" fill="#e7a1b6"/>
<rect x="599.90" y="653.85" width="10.5" height="51.85" fill="#d9718f"/>
<text x="422.4" y="724.7" font-size="12.1" fill="#595959" text-anchor="middle">2014</text>
<text x="459.1" y="724.7" font-size="12.1" fill="#595959" text-anchor="middle">2015</text>
<text x="495.7" y="724.7" font-size="12.1" fill="#595959" text-anchor="middle">2016</text>
<text x="532.4" y="724.7" font-size="12.1" fill="#595959" text-anchor="middle">2017</text>
<text x="569.1" y="724.7" font-size="12.1" fill="#595959" text-anchor="middle">2018</text>
<text x="605.8" y="724.7" font-size="12.1" fill="#595959" text-anchor="middle">2019</text>
<rect x="384.3" y="731.2" width="6.300000000000011" height="6.6" fill="#8c2a4c"/>
<text x="393.0" y="738.0" font-size="12.0" fill="#595959" textLength="77.1" lengthAdjust="spacingAndGlyphs">Total Demand</text>
<rect x="495.6" y="731.2" width="6.399999999999977" height="6.6" fill="#e7a1b6"/>
<text x="504.9" y="738.0" font-size="12.0" fill="#595959" textLength="52.2" lengthAdjust="spacingAndGlyphs">Recycling</text>
<rect x="582.6" y="731.2" width="6.399999999999977" height="6.6" fill="#d9718f"/>
<text x="591.7" y="738.0" font-size="12.0" fill="#595959" textLength="37.8" lengthAdjust="spacingAndGlyphs">Supply</text>
<text transform="translate(370.2,662.4) rotate(-90)" x="0" y="0" font-size="10.3" font-weight="bold" fill="#262626" text-anchor="middle" textLength="108.7" lengthAdjust="spacingAndGlyphs">Troy Ounce (Millions)</text>
<text x="46.0" y="770.0" font-size="16" fill="#1144cc" textLength="403.3" lengthAdjust="spacingAndGlyphs">WORLWIDE YEAR-ON-YEAR CHANGES IN AUTO SALES</text>
<text x="449.0" y="765.3" font-size="10.6" fill="#1144cc">3</text>
<rect x="42.9" y="773.0" width="611.4" height="135.20000000000005" fill="none" stroke="#555a5d" stroke-width="1.1" rx="1"/>
<line x1="122.9" y1="780.20" x2="623.4" y2="780.20" stroke="#e0e0e0" stroke-width="1"/>
<line x1="122.9" y1="802.70" x2="623.4" y2="802.70" stroke="#e0e0e0" stroke-width="1"/>
<line x1="122.9" y1="825.20" x2="623.4" y2="825.20" stroke="#e0e0e0" stroke-width="1"/>
<line x1="122.9" y1="847.70" x2="623.4" y2="847.70" stroke="#e0e0e0" stroke-width="1"/>
<line x1="122.9" y1="870.20" x2="623.4" y2="870.20" stroke="#e0e0e0" stroke-width="1"/>
<line x1="122.9" y1="810.20" x2="623.4" y2="810.20" stroke="#e0e0e0" stroke-width="1"/>
<path d="M122.90,810.20 v4 M173.78,810.20 v4 M224.66,810.20 v4 M275.54,810.20 v4 M326.42,810.20 v4 M377.30,810.20 v4 M428.18,810.20 v4 M479.06,810.20 v4 M529.94,810.20 v4 M580.82,810.20 v4" stroke="#e0e0e0" stroke-width="1"/>
<text x="111.9" y="784.4" font-size="12.1" fill="#595959" text-anchor="end">40%</text>
<text x="111.9" y="806.9" font-size="12.1" fill="#595959" text-anchor="end">10%</text>
<text x="111.9" y="829.4" font-size="12.1" fill="#595959" text-anchor="end">-20%</text>
<text x="111.9" y="851.9" font-size="12.1" fill="#595959" text-anchor="end">-50%</text>
<text x="111.9" y="874.4" font-size="12.1" fill="#595959" text-anchor="end">-80%</text>
<text x="122.9" y="889.3" font-size="12.1" fill="#595959" text-anchor="middle">Oct 15</text>
<text x="173.8" y="889.3" font-size="12.1" fill="#595959" text-anchor="middle">Apr 16</text>
<text x="224.7" y="889.3" font-size="12.1" fill="#595959" text-anchor="middle">Oct 16</text>
<text x="275.5" y="889.3" font-size="12.1" fill="#595959" text-anchor="middle">Apr 17</text>
<text x="326.4" y="889.3" font-size="12.1" fill="#595959" text-anchor="middle">Oct 17</text>
<text x="377.3" y="889.3" font-size="12.1" fill="#595959" text-anchor="middle">Apr 18</text>
<text x="428.2" y="889.3" font-size="12.1" fill="#595959" text-anchor="middle">Oct 18</text>
<text x="479.1" y="889.3" font-size="12.1" fill="#595959" text-anchor="middle">Apr 19</text>
<text x="529.9" y="889.3" font-size="12.1" fill="#595959" text-anchor="middle">Oct 19</text>
<text x="580.8" y="889.3" font-size="12.1" fill="#595959" text-anchor="middle">Apr 20</text>
<text transform="translate(55.8,838.5) rotate(-90)" font-size="10.3" textLength="72.5" lengthAdjust="spacingAndGlyphs" font-weight="bold" fill="#262626" text-anchor="middle">Year on Year</text>
<text transform="translate(69.5,838.5) rotate(-90)" font-size="10.3" textLength="49.4" lengthAdjust="spacingAndGlyphs" font-weight="bold" fill="#262626" text-anchor="middle">Changes</text>
<path d="M122.90,808.00 L131.38,800.00 L139.86,798.00 L148.34,805.00 L156.82,799.40 L165.30,806.00 L173.78,803.00 L182.26,798.00 L190.74,805.00 L199.22,811.00 L207.70,802.60 L216.18,804.60 L224.66,809.00 L233.14,806.00 L241.62,808.00 L250.10,802.00 L258.58,808.00 L267.06,801.40 L275.54,816.00 L284.02,804.60 L292.50,809.00 L300.98,808.60 L309.46,807.00 L317.94,812.00 L326.42,806.00 L334.90,805.40 L343.38,814.00 L351.86,805.00 L360.34,807.00 L368.82,814.60 L377.30,804.60 L385.78,808.00 L394.26,805.00 L402.74,802.00 L411.22,786.00 L419.70,828.00 L428.18,816.00 L436.66,816.00 L445.14,816.60 L453.62,823.00 L462.10,816.00 L470.58,833.00 L479.06,819.40 L487.54,820.00 L496.02,827.00 L504.50,818.00 L512.98,823.00 L521.46,823.40 L529.94,803.00 L538.42,806.60 L546.90,794.00 L555.38,816.60 L563.86,816.60 L572.34,850.00 L580.82,867.40 L589.30,850.00 L597.78,829.00 L606.26,814.00 L614.74,825.00 L623.22,807.00" fill="none" stroke="#1eaee8" stroke-width="2.6" stroke-linejoin="round" stroke-linecap="round"/>
<path d="M122.90,801.00 L131.38,795.00 L139.86,798.00 L148.34,804.00 L156.82,811.00 L165.30,804.00 L173.78,805.00 L182.26,802.60 L190.74,799.00 L199.22,793.00 L207.70,792.00 L216.18,790.00 L224.66,795.00 L233.14,797.00 L241.62,802.00 L250.10,809.40 L258.58,793.00 L267.06,803.00 L275.54,812.60 L284.02,809.00 L292.50,806.40 L300.98,805.00 L309.46,805.40 L317.94,806.00 L326.42,809.00 L334.90,810.60 L343.38,811.00 L351.86,801.00 L360.34,819.40 L368.82,810.00 L377.30,801.40 L385.78,802.60 L394.26,806.00 L402.74,813.40 L411.22,813.00 L419.70,819.00 L428.18,818.60 L436.66,820.60 L445.14,820.00 L453.62,822.60 L462.10,820.00 L470.58,814.00 L479.06,821.00 L487.54,822.60 L496.02,817.00 L504.50,813.40 L512.98,816.00 L521.46,814.60 L529.94,813.00 L538.42,812.00 L546.90,810.00 L555.38,824.00 L563.86,870.00 L572.34,840.00 L580.82,807.00 L589.30,798.60 L597.78,801.40 L606.26,797.40 L614.74,801.40 L623.22,800.60" fill="none" stroke="#579a18" stroke-width="2.6" stroke-linejoin="round" stroke-linecap="round"/>
<path d="M122.90,802.00 L131.38,805.00 L139.86,808.60 L148.34,806.60 L156.82,805.00 L165.30,813.40 L173.78,807.00 L182.26,812.00 L190.74,811.40 L199.22,809.40 L207.70,813.40 L216.18,812.00 L224.66,811.00 L233.14,812.00 L241.62,807.00 L250.10,811.40 L258.58,811.40 L267.06,810.60 L275.54,812.00 L284.02,812.00 L292.50,812.00 L300.98,814.60 L309.46,815.00 L317.94,806.00 L326.42,809.00 L334.90,810.60 L343.38,811.00 L351.86,811.40 L360.34,811.40 L368.82,807.00 L377.30,809.40 L385.78,810.00 L394.26,806.00 L402.74,810.00 L411.22,807.00 L419.70,814.00 L428.18,812.00 L436.66,810.00 L445.14,811.00 L453.62,812.00 L462.10,811.60 L470.58,809.40 L479.06,813.40 L487.54,807.60 L496.02,810.60 L504.50,809.40 L512.98,808.00 L521.46,811.00 L529.94,814.60 L538.42,811.40 L546.90,814.00 L555.38,808.60 L563.86,808.60 L572.34,838.60 L580.82,846.00 L589.30,833.00 L597.78,828.00 L606.26,821.00 L614.74,818.00 L623.22,813.40" fill="none" stroke="#3b6a10" stroke-width="2.6" stroke-linejoin="round" stroke-linecap="round"/>
<text x="624.0" y="805.0" font-size="12.4" fill="#579a18" font-weight="bold" textLength="25.4" lengthAdjust="spacingAndGlyphs">13%</text>
<text x="628.2" y="812.3" font-size="12.4" fill="#1f3008" font-weight="bold" textLength="21.2" lengthAdjust="spacingAndGlyphs">-5%</text>
<text x="631.6" y="822.1" font-size="12.4" fill="#1eaee8" font-weight="bold" textLength="17.8" lengthAdjust="spacingAndGlyphs">3%</text>
<path d="M87.20,899.90 L114.00,899.90" fill="none" stroke="#1eaee8" stroke-width="3" stroke-linejoin="round" stroke-linecap="round"/>
<text x="115.3" y="903.7" font-size="12.0" fill="#595959" textLength="148.9" lengthAdjust="spacingAndGlyphs">Europe New Passenger Car</text>
<path d="M307.20,899.60 L333.70,899.60" fill="none" stroke="#579a18" stroke-width="3" stroke-linejoin="round" stroke-linecap="round"/>
<text x="335.6" y="903.7" font-size="12.0" fill="#595959" textLength="129.8" lengthAdjust="spacingAndGlyphs">China Automobile Sales</text>
<path d="M510.20,899.90 L536.60,899.90" fill="none" stroke="#3b6a10" stroke-width="3" stroke-linejoin="round" stroke-linecap="round"/>
<text x="538.2" y="903.7" font-size="12.0" fill="#595959" textLength="75.1" lengthAdjust="spacingAndGlyphs">US Auto Sales</text>
<text x="45.3" y="922.1" font-size="11.6" fill="#2a4a9c" font-style="italic" textLength="288.8" lengthAdjust="spacingAndGlyphs">WisdomTree Views and Insights on Gold can be found</text>
<text x="340.2" y="922.1" font-size="11.6" fill="#0a2ad0" font-weight="bold" font-style="italic" textLength="25.0" lengthAdjust="spacingAndGlyphs">here</text>
<text x="366.8" y="922.1" font-size="11.6" fill="#0a2ad0">.</text>
<text x="44.8" y="933.6" font-size="9.2" fill="#737373" textLength="604.6" lengthAdjust="spacingAndGlyphs">Source: Bloomberg, WisdomTree. 1. From 13/11/19 to 13/11/20. Long Term average from Jan 90 for Platitnum and from Oct 93 for Palladium. 2.</text>
<text x="44.8" y="945.9" font-size="9.2" fill="#737373" textLength="602.6" lengthAdjust="spacingAndGlyphs">Johnson Matthey (Pgm Market Report). As of May 20. 3. Data from 31 Oct 15 to 30 Sep 20. More details and definitions can be found in Page 13.</text>
<text x="44.8" y="955.0" font-size="9.3" fill="#1f1f1f" font-weight="bold" textLength="591.3" lengthAdjust="spacingAndGlyphs">You cannot invest directly in an index. Historical performance is not an indication of future performance and any investments may go</text>
<text x="44.8" y="967.3" font-size="9.3" fill="#1f1f1f" font-weight="bold" textLength="65.6" lengthAdjust="spacingAndGlyphs">down in value.</text>
<text x="6.3" y="1002.3" font-size="12.5" fill="#2c3437" font-weight="bold" textLength="100.0" lengthAdjust="spacingAndGlyphs">WisdomTree.com</text>
<rect x="113.3" y="996.7" width="4.8" height="4.6" fill="#1fc8cc"/>
<text x="122.2" y="1002.3" font-size="12.5" fill="#2c3437" font-weight="bold" textLength="126.3" lengthAdjust="spacingAndGlyphs">+44 (0) 207 448 4330</text>
<line x1="7" y1="1013.4" x2="690" y2="1013.4" stroke="#8a8f93" stroke-width="1.2" stroke-dasharray="1.2 3.2"/>
<text x="572.6" y="1026.4" font-size="9.2" fill="#555" textLength="111.8" lengthAdjust="spacingAndGlyphs">For Professional Clients Only</text>
<path d="M568.3,976.9 L569.4,979.1 L571.7,981.4 L577.4,982.3 L583.1,983.1 L588.9,983.5 L598.0,983.7 L604.9,984.3 L605.3,987.4 L604.2,988.4 L614.2,988.4 L613.1,987.4 L612.9,984.3 L617.4,983.1 L625.4,982.0 L632.3,980.9 L639.1,979.1 L642.0,977.4 L639.1,975.7 L634.6,972.9 L630.0,970.0 L624.3,967.1 L617.4,966.0 L611.7,964.9 L603.7,964.9 L596.9,966.0 L590.0,967.7 L585.4,969.4 L580.9,971.7 L576.3,973.4 L571.7,975.1 Z" fill="#5f686e"/>
<g fill="#ffffff" opacity="0.75"><circle cx="602.8" cy="975.7" r="0.90"/><circle cx="603.7" cy="974.9" r="0.70"/><circle cx="584.6" cy="974.9" r="0.73"/><circle cx="625.9" cy="968.5" r="0.53"/><circle cx="578.2" cy="979.5" r="0.77"/><circle cx="574.8" cy="982.2" r="0.93"/><circle cx="616.5" cy="976.5" r="0.44"/><circle cx="573.0" cy="975.2" r="0.39"/><circle cx="584.9" cy="970.8" r="0.37"/><circle cx="603.5" cy="973.8" r="0.86"/><circle cx="607.3" cy="976.9" r="0.65"/><circle cx="617.0" cy="974.1" r="0.52"/><circle cx="639.8" cy="982.4" r="0.85"/><circle cx="620.1" cy="971.9" r="0.49"/><circle cx="591.7" cy="968.1" r="0.81"/><circle cx="599.2" cy="980.1" r="0.58"/><circle cx="637.1" cy="980.1" r="0.35"/><circle cx="586.3" cy="981.1" r="0.63"/><circle cx="638.7" cy="973.2" r="0.39"/><circle cx="614.8" cy="979.1" r="0.51"/><circle cx="577.9" cy="972.2" r="0.93"/><circle cx="623.5" cy="968.8" r="0.50"/><circle cx="578.9" cy="967.9" r="0.83"/><circle cx="584.1" cy="975.7" r="0.62"/><circle cx="585.0" cy="978.3" r="0.43"/><circle cx="615.8" cy="968.8" r="0.60"/><circle cx="586.5" cy="971.2" r="0.93"/><circle cx="626.6" cy="971.7" r="0.88"/><circle cx="586.3" cy="973.1" r="0.86"/><circle cx="615.6" cy="968.6" r="0.94"/><circle cx="586.5" cy="971.0" r="0.81"/><circle cx="594.4" cy="971.6" r="0.39"/><circle cx="578.1" cy="976.0" r="0.50"/><circle cx="612.9" cy="972.8" r="0.62"/><circle cx="637.2" cy="974.5" r="0.69"/><circle cx="630.9" cy="969.8" r="0.44"/><circle cx="633.8" cy="979.7" r="0.50"/><circle cx="584.9" cy="978.5" r="0.91"/><circle cx="585.4" cy="981.7" r="0.88"/><circle cx="613.0" cy="973.5" r="0.41"/><circle cx="574.6" cy="981.9" r="0.49"/><circle cx="619.9" cy="971.0" r="0.84"/><circle cx="612.6" cy="971.5" r="0.46"/><circle cx="621.0" cy="968.1" r="0.49"/><circle cx="610.0" cy="980.2" r="0.72"/><circle cx="591.1" cy="981.2" r="0.47"/><circle cx="573.1" cy="971.2" r="0.62"/><circle cx="576.1" cy="969.7" r="0.57"/><circle cx="610.9" cy="969.0" r="0.57"/><circle cx="632.6" cy="982.2" r="0.74"/><circle cx="619.0" cy="976.1" r="0.43"/><circle cx="574.4" cy="967.3" r="0.90"/><circle cx="619.7" cy="981.9" r="0.36"/><circle cx="615.3" cy="974.5" r="0.79"/><circle cx="593.7" cy="982.5" r="0.40"/><circle cx="609.1" cy="978.4" r="0.89"/><circle cx="622.1" cy="977.9" r="0.83"/><circle cx="634.2" cy="972.5" r="0.76"/><circle cx="633.3" cy="980.5" r="0.60"/><circle cx="625.8" cy="980.4" r="0.69"/><circle cx="614.5" cy="972.9" r="0.70"/><circle cx="613.4" cy="968.2" r="0.73"/><circle cx="639.5" cy="980.6" r="0.79"/><circle cx="598.4" cy="978.4" r="0.70"/><circle cx="602.0" cy="980.0" r="0.40"/><circle cx="623.0" cy="967.5" r="0.71"/><circle cx="604.7" cy="970.6" r="0.77"/><circle cx="605.8" cy="976.5" r="0.90"/><circle cx="589.4" cy="967.2" r="0.53"/><circle cx="618.1" cy="970.1" r="0.45"/><circle cx="633.6" cy="977.2" r="0.62"/><circle cx="632.6" cy="972.1" r="0.75"/><circle cx="585.5" cy="973.7" r="0.83"/><circle cx="634.2" cy="980.6" r="0.58"/><circle cx="611.7" cy="971.9" r="0.43"/><circle cx="605.8" cy="980.0" r="0.86"/><circle cx="620.4" cy="981.7" r="0.52"/><circle cx="583.5" cy="974.0" r="0.52"/><circle cx="586.6" cy="973.4" r="0.73"/><circle cx="605.6" cy="971.9" r="0.85"/><circle cx="638.8" cy="974.0" r="0.39"/><circle cx="574.1" cy="980.5" r="0.37"/><circle cx="620.2" cy="975.8" r="0.54"/><circle cx="625.8" cy="967.3" r="0.43"/><circle cx="602.9" cy="967.4" r="0.85"/><circle cx="588.1" cy="969.2" r="0.38"/><circle cx="614.8" cy="973.9" r="0.73"/><circle cx="616.5" cy="979.5" r="0.93"/><circle cx="618.5" cy="970.1" r="0.64"/><circle cx="584.2" cy="967.2" r="0.63"/><circle cx="620.6" cy="969.8" r="0.51"/><circle cx="595.5" cy="977.8" r="0.66"/><circle cx="613.8" cy="978.7" r="0.59"/><circle cx="625.9" cy="981.0" r="0.40"/><circle cx="635.4" cy="978.2" r="0.43"/><circle cx="602.8" cy="976.7" r="0.90"/><circle cx="597.6" cy="975.8" r="0.88"/><circle cx="626.2" cy="981.6" r="0.63"/><circle cx="616.3" cy="970.2" r="0.78"/><circle cx="627.6" cy="976.9" r="0.78"/><circle cx="586.5" cy="980.9" r="0.94"/><circle cx="638.5" cy="975.3" r="0.82"/><circle cx="593.8" cy="981.1" r="0.86"/><circle cx="595.7" cy="968.3" r="0.61"/><circle cx="609.4" cy="978.9" r="0.64"/><circle cx="573.9" cy="979.5" r="0.39"/><circle cx="626.4" cy="969.7" r="0.55"/><circle cx="625.6" cy="969.2" r="0.44"/><circle cx="607.1" cy="978.2" r="0.85"/><circle cx="618.9" cy="981.7" r="0.65"/></g>
<path d="M572.9,989.6 Q607,987.6 641.4,989.6" fill="none" stroke="#7d858a" stroke-width="0.9"/>
<text x="573.2" y="1003.0" font-family="'Liberation Serif', serif" fill="#5f666b" textLength="108.5" lengthAdjust="spacingAndGlyphs"><tspan font-size="15.6">W</tspan><tspan font-size="11.6">ISDOM</tspan><tspan font-size="15.6">T</tspan><tspan font-size="11.6">REE</tspan></text>
<text x="682.0" y="996.0" font-size="6" fill="#5f666b">®</text>
</svg>
</body></html>
